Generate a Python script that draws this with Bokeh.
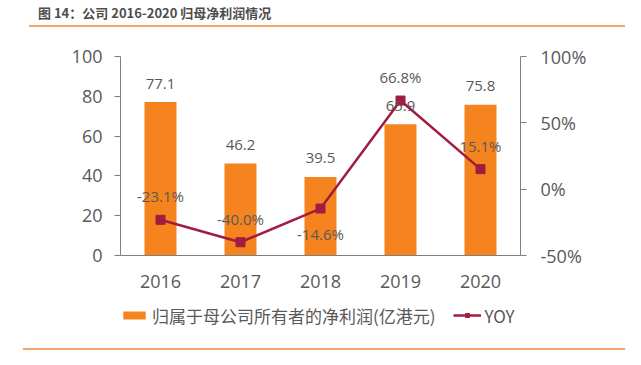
from bokeh.plotting import figure
from bokeh.layouts import column
from bokeh.models import (ColumnDataSource, Range1d, LinearAxis, FixedTicker,
                          PrintfTickFormatter, Legend, LegendItem, LabelSet, Div)
from bokeh.core.properties import value
from bokeh.embed import file_html
from bokeh.resources import INLINE

years = ["2016", "2017", "2018", "2019", "2020"]
profit = [77.1, 46.2, 39.5, 65.9, 75.8]
yoy = [-23.1, -40.0, -14.6, 66.8, 15.1]
yoy_label_side = ["above", "above", "below", "above", "above"]
left_ticks = [0, 20, 40, 60, 80, 100]
right_ticks = [-50, 0, 50, 100]

title_text = "图 14：公司 2016-2020 归母净利润情况"
bar_name = "归属于母公司所有者的净利润(亿港元)"
line_name = "YOY"

BAR_C = "#F5841F"
LINE_C = "#A01D40"
TXT_C = "#595959"
AX_C = "#808080"
RULE_C = "#F4A46A"
NUM_FONT = "Open Sans"
CJK_FONT = "Noto Sans CJK SC"
W = 625
BL, BR = 120, 105         # frame borders (px)
n = len(years)

# ---- header: title + rule
head = Div(width=W, height=30, margin=0, text=(
    f'<div style="position:relative;width:{W}px;height:30px;">'
    f'<span style="position:absolute;left:38px;top:3px;font-family:\'{CJK_FONT}\';'
    f'font-size:13px;font-weight:bold;color:#4D4D4D;white-space:nowrap;line-height:19px;">'
    f'{title_text}</span>'
    f'<div style="position:absolute;left:29px;width:{W - 29}px;top:25px;height:1.5px;'
    f'background:{RULE_C};"></div></div>'))

# ---- main chart
xs = list(range(n))
src = ColumnDataSource(dict(
    x=xs, profit=profit, yoy=yoy,
    plabel=[f"{v:.1f}" for v in profit],
    ylabel=[f"{v:.1f}%" for v in yoy],
    yoff=[17.5 if s == "above" else -31 for s in yoy_label_side],
))

p = figure(width=W, height=265, x_range=Range1d(-0.5, n - 0.5), y_range=Range1d(0, 100),
           output_backend="svg", toolbar_location=None,
           min_border_left=BL, min_border_right=BR, min_border_top=26, min_border_bottom=40)
p.extra_y_ranges = {"yoy": Range1d(-50, 100)}
p.outline_line_color = None
p.xgrid.grid_line_color = None
p.ygrid.grid_line_color = None

bars = p.vbar(x="x", top="profit", width=0.4, source=src, fill_color=BAR_C, line_color=None)
line = p.line(x="x", y="yoy", source=src, y_range_name="yoy", line_color=LINE_C, line_width=2.5)
marks = p.scatter(x="x", y="yoy", source=src, y_range_name="yoy", marker="square", size=9,
                  fill_color=LINE_C, line_color=LINE_C)

yl = p.yaxis[0]
yl.ticker = FixedTicker(ticks=left_ticks)
yr = LinearAxis(y_range_name="yoy", ticker=FixedTicker(ticks=right_ticks),
                formatter=PrintfTickFormatter(format="%d%%"))
p.add_layout(yr, "right")
for ax, so in [(yl, 12), (yr, 14)]:
    ax.axis_line_color = AX_C
    ax.major_tick_line_color = AX_C
    ax.major_tick_out = 6
    ax.major_tick_in = 0
    ax.minor_tick_line_color = None
    ax.major_label_text_color = TXT_C
    ax.major_label_text_font = NUM_FONT
    ax.major_label_text_font_size = "18px"
    ax.major_label_standoff = so

xa = p.xaxis[0]
xa.ticker = FixedTicker(ticks=xs)
xa.major_label_overrides = {i: y for i, y in zip(xs, years)}
xa.axis_line_color = AX_C
xa.major_tick_line_color = None
xa.minor_tick_line_color = None
xa.major_label_text_color = TXT_C
xa.major_label_text_font = NUM_FONT
xa.major_label_text_font_size = "18px"
xa.major_label_standoff = 13

p.add_layout(LabelSet(x="x", y="profit", text="plabel", source=src, y_offset=13.5,
                      text_align="center", text_baseline="alphabetic", text_color=TXT_C,
                      text_font=value(NUM_FONT), text_font_size="15px"))
p.add_layout(LabelSet(x="x", y="yoy", text="ylabel", source=src, y_range_name="yoy", y_offset="yoff",
                      text_align="center", text_baseline="alphabetic", text_color=TXT_C,
                      text_font=value(NUM_FONT), text_font_size="15px"))

# ---- legend strip (same frame as the chart; its glyphs sit outside the visible range)
leg = figure(width=W, height=45, x_range=Range1d(-0.5, n - 0.5), y_range=Range1d(1000, 1001),
             output_backend="svg", toolbar_location=None, x_axis_type=None, y_axis_type=None,
             min_border_left=BL, min_border_right=BR, min_border_top=0, min_border_bottom=0)
leg.outline_line_color = None
leg.xgrid.grid_line_color = None
leg.ygrid.grid_line_color = None
lb = leg.vbar(x="x", top="profit", width=0.4, source=src, fill_color=BAR_C, line_color=None)
ll = leg.line(x="x", y="yoy", source=src, line_color=LINE_C, line_width=2.5)
lm = leg.scatter(x="x", y="yoy", source=src, marker="square", size=7,
                 fill_color=LINE_C, line_color=LINE_C)
legend = Legend(items=[LegendItem(label=bar_name, renderers=[lb]),
                       LegendItem(label=line_name, renderers=[ll, lm])],
                orientation="horizontal", location=(0, 12.5), spacing=17,
                glyph_width=28, glyph_height=10, label_standoff=4, label_height=20,
                label_text_font=CJK_FONT, label_text_font_size="17px", label_text_color=TXT_C,
                padding=0, margin=0, border_line_color=None, background_fill_alpha=0)
leg.add_layout(legend, "center")

# ---- bottom rule
foot = Div(width=W, height=9, margin=0, text=(
    f'<div style="position:relative;width:{W}px;height:9px;">'
    f'<div style="position:absolute;left:23px;width:{W - 23}px;top:5px;height:1.5px;'
    f'background:{RULE_C};"></div></div>'))

layout = column(head, p, leg, foot, spacing=0)
open("out.html", "w").write(file_html(layout, INLINE))
